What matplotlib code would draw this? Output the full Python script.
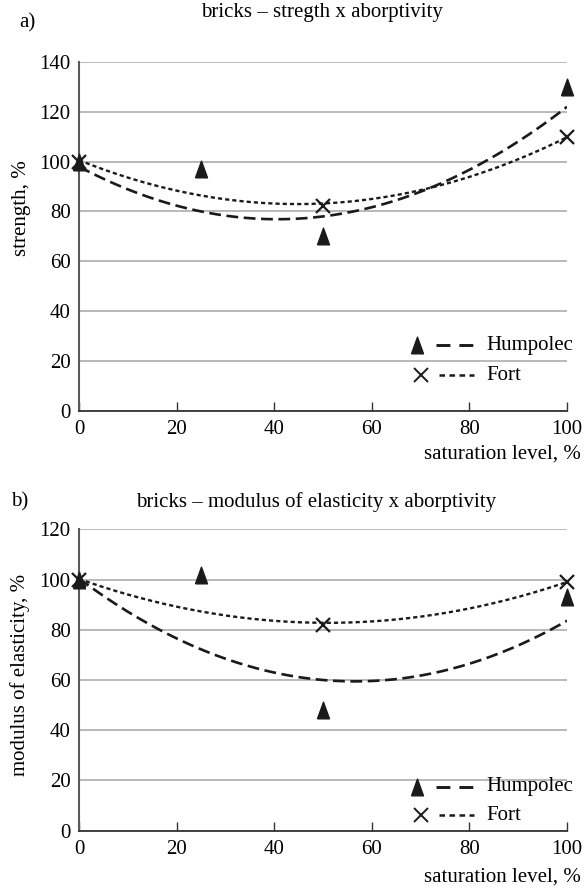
import numpy as np
import matplotlib
matplotlib.use("Agg")
import matplotlib.pyplot as plt
from matplotlib.lines import Line2D

plt.rcParams['font.family'] = ['Liberation Serif', 'DejaVu Serif']
plt.rcParams['lines.scale_dashes'] = False

# ---- data (measured points) ----
sat_humpolec = [0, 25, 50, 100]
sat_fort = [0, 50, 100]

strength_humpolec = [100, 97, 70, 130]
strength_fort = [100, 82, 110]

modulus_humpolec = [100, 102, 48, 93]
modulus_fort = [100, 82, 99]

# ---- trend lines ----
trend_x = [0, 25, 50, 75, 100]
strength_humpolec_trend = [98, 80, 78, 92, 122]
strength_fort_trend = [100, 88, 82, 91, 110]
modulus_humpolec_trend = [100, 73, 60, 63, 84]
modulus_fort_trend = [100, 88, 82, 87, 99]

x_ticks = [0, 20, 40, 60, 80, 100]
y_ticks_a = [0, 20, 40, 60, 80, 100, 120, 140]
y_ticks_b = [0, 20, 40, 60, 80, 100, 120]

W, H = 584, 889
FS = 15
fig = plt.figure(figsize=(W / 100, H / 100), dpi=100)

def px_box(l, r, top, bot):
    return [l / W, 1 - bot / H, (r - l) / W, (bot - top) / H]

tri = [(-0.72, -1.0), (0.72, -1.0), (0.0, 1.0), (-0.72, -1.0)]
INK = '#1a1a1a'

def panel(box, yh, yf, th, tf, yticks, ylabel, ylab_pos, leg_y):
    ax = fig.add_axes(px_box(*box))
    xs = np.linspace(0, 100, 200)
    ch = np.polyfit(trend_x, th, 2)
    cf = np.polyfit(trend_x, tf, 2)
    ax.plot(xs, np.polyval(ch, xs), color=INK, lw=1.9, dashes=(8.5, 4.0),
            zorder=3)
    ax.plot(xs, np.polyval(cf, xs), color=INK, lw=1.7, dashes=(3.0, 2.2),
            zorder=3)
    ax.plot(sat_humpolec, yh, linestyle='none', marker=tri, markersize=12,
            color=INK, mec=INK, zorder=4, clip_on=False)
    ax.plot(sat_fort, yf, linestyle='none', marker='x', markersize=9.5,
            mew=1.6, color=INK, zorder=5, clip_on=False)

    ax.set_xlim(0, 100)
    ax.set_ylim(yticks[0], yticks[-1])
    ax.set_xticks(x_ticks)
    ax.set_yticks(yticks)
    ax.set_xticklabels([str(v) for v in x_ticks])
    ax.set_yticklabels([str(v) for v in yticks])
    ax.tick_params(axis='x', direction='in', length=6.5, width=1.0,
                   colors='#333333', labelcolor='black', labelsize=FS, pad=7)
    ax.tick_params(axis='y', length=0, labelsize=FS, pad=6, labelcolor='black')
    ax.grid(axis='y', color='#a6a6a6', lw=1.1, zorder=0)
    ax.set_axisbelow(True)
    for s in ('top', 'right'):
        ax.spines[s].set_visible(False)
    ax.spines['left'].set_color('#5a5a5a')
    ax.spines['left'].set_linewidth(1.5)
    ax.spines['bottom'].set_color('#333333')
    ax.spines['bottom'].set_linewidth(1.3)
    ax.spines['left'].set_zorder(2)

    ax.set_ylabel(ylabel, fontsize=FS)
    ax.yaxis.label.set_va('center')
    ax.yaxis.set_label_coords(*ylab_pos)

    # legend keys (manual, axes coordinates)
    hy, fy = leg_y
    ax.add_line(Line2D([0.693], [hy], marker=tri, markersize=12, color=INK,
                       linestyle='none', transform=ax.transAxes, clip_on=False))
    ax.add_line(Line2D([0.732, 0.818], [hy, hy], color=INK, lw=2.1,
                       dashes=(10.0, 6.5), transform=ax.transAxes, clip_on=False))
    ax.text(0.835, hy, 'Humpolec', transform=ax.transAxes, fontsize=FS,
            va='center', ha='left')
    ax.add_line(Line2D([0.70], [fy], marker='x', markersize=9.5, mew=1.4,
                       color=INK, linestyle='none', transform=ax.transAxes,
                       clip_on=False))
    ax.add_line(Line2D([0.737, 0.81], [fy, fy], color=INK, lw=1.8,
                       dashes=(4.0, 3.2), transform=ax.transAxes, clip_on=False))
    ax.text(0.835, fy, 'Fort', transform=ax.transAxes, fontsize=FS,
            va='center', ha='left')
    return ax

ax1 = panel((79, 567, 62, 410.7), strength_humpolec, strength_fort,
            strength_humpolec_trend, strength_fort_trend, y_ticks_a,
            'strength, %', (-0.117, 0.58), (0.188, 0.102))
ax2 = panel((79, 567, 529.3, 830.7), modulus_humpolec, modulus_fort,
            modulus_humpolec_trend, modulus_fort_trend, y_ticks_b,
            'modulus of elasticity, %', (-0.121, 0.517), (0.146, 0.052))

def ftext(x, y, s, **kw):
    fig.text(x / W, 1 - y / H, s, fontsize=FS, va='center', **kw)

ftext(322, 13, 'bricks – stregth x aborptivity', ha='center')
ftext(19, 23, 'a)', ha='left')
ftext(581, 454, 'saturation level, %', ha='right')
ftext(316, 502, 'bricks – modulus of elasticity x aborptivity', ha='center')
ftext(11, 502, 'b)', ha='left')
ftext(581, 877, 'saturation level, %', ha='right')

fig.savefig('out.png', dpi=100)
